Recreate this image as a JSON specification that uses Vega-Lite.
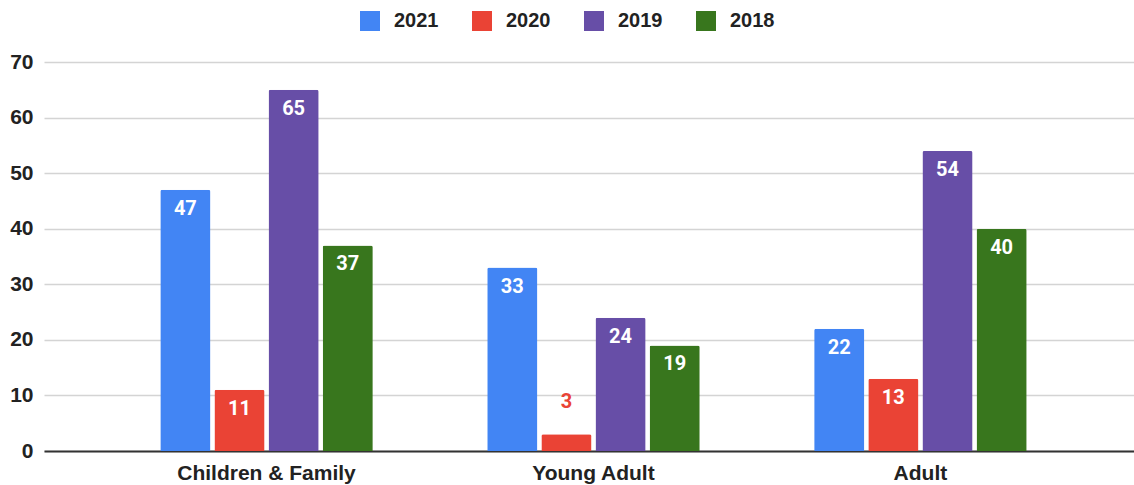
{
  "$schema": "https://vega.github.io/schema/vega-lite/v6.json",
  "autosize": "none",
  "width": 1090,
  "height": 389,
  "padding": {"left": 44, "top": 62, "right": 0, "bottom": 34},
  "background": "white",
  "config": {
    "view": {"stroke": null},
    "font": "Liberation Sans",
    "axis": {"labelFont": "Liberation Sans", "labelFontWeight": "bold", "labelColor": "#222222", "labelFontSize": 21},
    "legend": {"labelFont": "Liberation Sans", "labelFontWeight": "bold", "labelColor": "#222222", "labelFontSize": 20}
  },
  "data": {
    "values": [
      {"category": "Children & Family", "year": "2021", "value": 47},
      {"category": "Children & Family", "year": "2020", "value": 11},
      {"category": "Children & Family", "year": "2019", "value": 65},
      {"category": "Children & Family", "year": "2018", "value": 37},
      {"category": "Young Adult", "year": "2021", "value": 33},
      {"category": "Young Adult", "year": "2020", "value": 3},
      {"category": "Young Adult", "year": "2019", "value": 24},
      {"category": "Young Adult", "year": "2018", "value": 19},
      {"category": "Adult", "year": "2021", "value": 22},
      {"category": "Adult", "year": "2020", "value": 13},
      {"category": "Adult", "year": "2019", "value": 54},
      {"category": "Adult", "year": "2018", "value": 40}
    ]
  },
  "encoding": {
    "x": {
      "field": "category", "type": "nominal",
      "sort": ["Children & Family", "Young Adult", "Adult"],
      "scale": {"paddingInner": 0.35, "paddingOuter": 0.342, "align": 0.52},
      "axis": {"title": null, "labelAngle": 0, "ticks": false, "domain": true, "domainColor": "#333333", "domainWidth": 2, "labelPadding": 11}
    },
    "xOffset": {
      "field": "year", "type": "nominal",
      "sort": ["2021", "2020", "2019", "2018"],
      "scale": {"paddingInner": 0.074, "paddingOuter": 0}
    },
    "y": {
      "field": "value", "type": "quantitative",
      "scale": {"domain": [0, 70], "nice": false},
      "axis": {"title": null, "values": [0, 10, 20, 30, 40, 50, 60, 70], "labelOverlap": false, "ticks": false, "domain": false, "gridColor": "#d4d4d4", "gridWidth": 1.5, "labelPadding": 11}
    }
  },
  "layer": [
    {
      "mark": {"type": "bar", "cornerRadiusTopLeft": 2, "cornerRadiusTopRight": 2},
      "encoding": {
        "color": {
          "field": "year", "type": "nominal",
          "scale": {"domain": ["2021", "2020", "2019", "2018"], "range": ["#4285F4", "#EA4335", "#674EA7", "#38761D"]},
          "legend": {
            "title": null, "orient": "none", "direction": "horizontal",
            "legendX": 316, "legendY": -51,
            "symbolType": "square", "symbolSize": 400, "symbolStrokeWidth": 0, "symbolOpacity": 1,
            "labelOffset": 14, "columnPadding": 33
          }
        }
      }
    },
    {
      "transform": [{"filter": "datum.value >= 5"}],
      "mark": {"type": "text", "baseline": "middle", "dy": 19, "fontWeight": "bold", "fontSize": 20, "color": "white", "font": "Roboto"},
      "encoding": {"text": {"field": "value", "type": "quantitative"}}
    },
    {
      "transform": [{"filter": "datum.value < 5"}],
      "mark": {"type": "text", "baseline": "middle", "dy": -32, "fontWeight": "bold", "fontSize": 20, "color": "#EA4335", "font": "Roboto"},
      "encoding": {"text": {"field": "value", "type": "quantitative"}}
    }
  ]
}
